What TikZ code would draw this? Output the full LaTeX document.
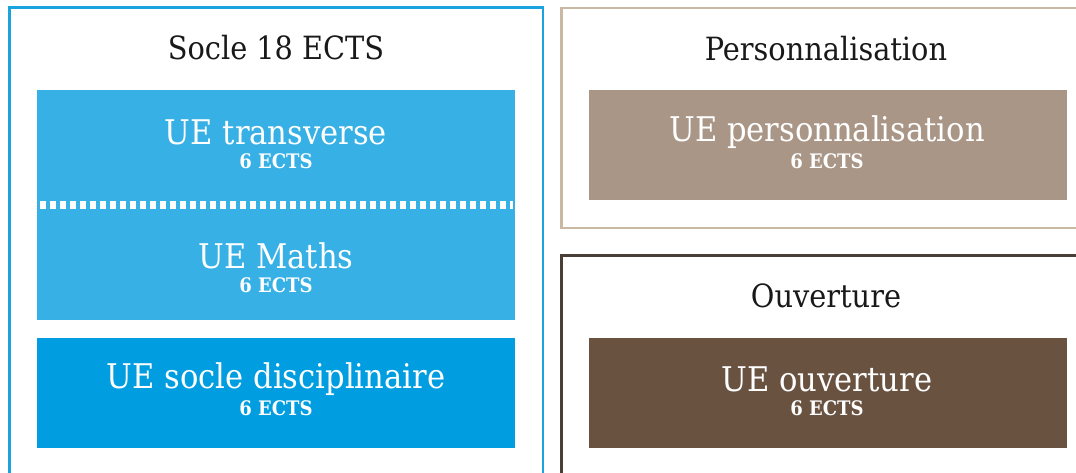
\documentclass[tikz,border=0pt]{standalone}
\usepackage{fontspec}
\setmainfont{DejaVu Serif Condensed}
\usepackage{tikz}
\usetikzlibrary{calc}

\definecolor{soclefr}{HTML}{1BA3E0}
\definecolor{lightue}{HTML}{36B0E5}
\definecolor{socleue}{HTML}{009EE0}
\definecolor{persofr}{HTML}{C9B9A2}
\definecolor{persoue}{HTML}{A99686}
\definecolor{ouvfr}{HTML}{4A3F36}
\definecolor{ouvue}{HTML}{6A5241}

\tikzset{
	frame/.style={draw=#1, line width=2.4pt},
	ue/.style={fill=#1, minimum width=478pt, minimum height=110pt, inner sep=0pt},
	bloctitle/.style={text=black!90, font=\fontsize{32}{34}\selectfont},
	uename/.style={text=white, font=\fontsize{34}{36}\selectfont},
	ects/.style={text=white, font=\fontsize{20}{22}\selectfont\bfseries},
	sep/.style={draw=white, line width=8pt, dash pattern=on 6pt off 4pt}
}

\begin{document}
\begin{tikzpicture}[x=1pt,y=-1pt]
	\useasboundingbox (0,0) rectangle (1076,472);
	\clip (0,0) rectangle (1076,472);

	% Frames
	\draw[frame=soclefr] (9.5,7.5) rectangle (543,500);
	\draw[frame=persofr] (561.5,8) rectangle (1100,228);
	\draw[frame=ouvfr] (561.5,255.5) rectangle (1100,500);

	% Boxes
	\node[ue=lightue, minimum height=230pt] (transmaths) at (276.25,205) {};
	\node[ue=socleue] (socle) at (276.25,393) {};
	\node[ue=persoue] (perso) at (827.5,145) {};
	\node[ue=ouvue] (ouv) at (827.5,393) {};
	\draw[sep] ([xshift=3pt]transmaths.west) -- ([xshift=-2pt]transmaths.east);

	% Titles
	\node[bloctitle] (tsocle) at (276,48) {Socle 18 ECTS};
	\node[bloctitle] (tperso) at (826,49) {Personnalisation};
	\node[bloctitle] (touv) at (826,296) {Ouverture};

	% UE labels
	\node[uename] (ntrans) at (276,132) {UE transverse};
	\node[ects] (etrans) at (276,161) {6 ECTS};
	\node[uename] (nmaths) at (276,256) {UE Maths};
	\node[ects] (emaths) at (276,285) {6 ECTS};
	\node[uename] (nsocle) at (276,379) {UE socle disciplinaire};
	\node[ects] (esocle) at (276,408) {6 ECTS};
	\node[uename] (nperso) at (827,132) {UE personnalisation};
	\node[ects] (eperso) at (827,161) {6 ECTS};
	\node[uename] (nouv) at (827,379) {UE ouverture};
	\node[ects] (eouv) at (827,408) {6 ECTS};
\end{tikzpicture}
\end{document}
